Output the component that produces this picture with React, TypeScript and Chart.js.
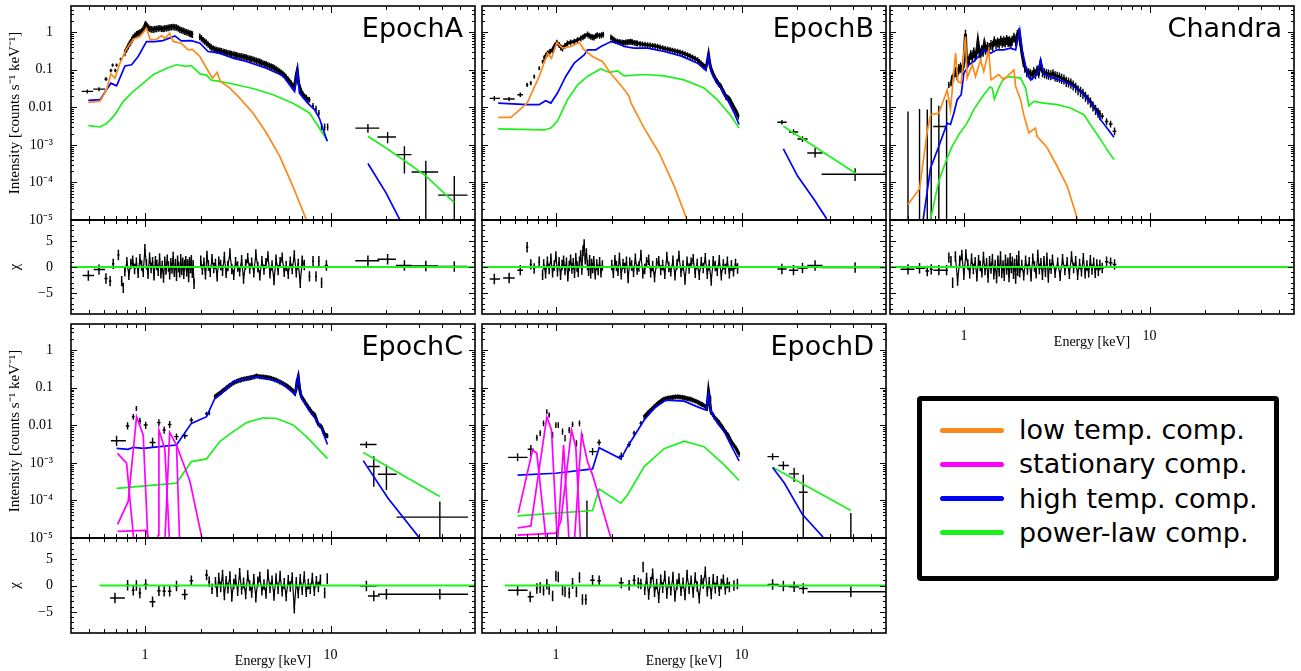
import React, { useEffect, useRef } from 'react';
import { Chart, registerables } from 'chart.js';

Chart.register(...registerables);

type Pair = [number, number];
type Cross = [number, number, number, number, number, number]; // E, Elo, Ehi, V, Vlo, Vhi
type ResCross = [number, number, number, number]; // E, Elo, Ehi, chi

// ---------------- axes ----------------
const X_RANGE: Pair = [0.4, 60];
const Y_RANGE: Pair = [1e-5, 5];
const R_RANGE: Pair = [-9, 9];
const X_MAJOR = [1, 10];
const X_MAJOR_LABELS = ['1', '10'];
const X_MINOR = [0.5, 0.6, 0.7, 0.8, 0.9, 2, 3, 4, 5, 6, 7, 8, 9, 20, 30, 40, 50];
const Y_MAJOR = [1e-5, 1e-4, 1e-3, 0.01, 0.1, 1];
const Y_MAJOR_LABELS = ['10⁻⁵', '10⁻⁴', '10⁻³', '0.01', '0.1', '1'];
const Y_MINOR = [
  2e-5, 3e-5, 4e-5, 5e-5, 6e-5, 7e-5, 8e-5, 9e-5,
  2e-4, 3e-4, 4e-4, 5e-4, 6e-4, 7e-4, 8e-4, 9e-4,
  0.002, 0.003, 0.004, 0.005, 0.006, 0.007, 0.008, 0.009,
  0.02, 0.03, 0.04, 0.05, 0.06, 0.07, 0.08, 0.09,
  0.2, 0.3, 0.4, 0.5, 0.6, 0.7, 0.8, 0.9,
  2, 3, 4,
];
const R_MAJOR = [-5, 0, 5];
const R_MAJOR_LABELS = ['−5', '0', '5'];
const R_MINOR = [-8, -7, -6, -4, -3, -2, -1, 1, 2, 3, 4, 6, 7, 8];

const COLORS = { low: '#fb8a1a', stat: '#ff00ff', high: '#0000ff', pl: '#1ef01e' };
const SERIF = "'Liberation Serif', 'Times New Roman', Times, serif";
const SANS = "'DejaVu Sans', Verdana, sans-serif";

// ================= EPOCH A =================
const aLow: Pair[] = [[0.496,0.0136],[0.573,0.0145],[0.622,0.0294],[0.656,0.078],[0.690,0.060],[0.734,0.150],[0.791,0.34],[0.866,0.65],[0.94,0.77],[1.02,1.28],[1.07,0.63],[1.155,0.65],[1.23,0.80],[1.29,0.69],[1.36,0.94],[1.42,0.57],[1.57,0.51],[1.71,0.34],[1.80,0.35],[1.98,0.226],[2.15,0.11],[2.31,0.060],[2.45,0.085],[2.55,0.049],[2.86,0.033],[3.18,0.0195],[3.82,0.0071],[4.51,0.0021],[5.32,5e-4],[6.27,7.9e-5],[7.4,1.04e-5],[7.6,7e-6]];
const aHigh: Pair[] = [[0.496,0.0153],[0.573,0.016],[0.656,0.044],[0.704,0.0376],[0.781,0.126],[0.848,0.136],[0.92,0.226],[1.02,0.565],[1.13,0.565],[1.25,0.60],[1.45,0.80],[1.57,0.59],[1.78,0.60],[1.98,0.51],[2.19,0.307],[2.38,0.29],[2.53,0.277],[2.98,0.204],[3.52,0.166],[4.51,0.11],[5.54,0.069],[6.40,0.0263],[6.63,0.10],[6.80,0.024],[7.54,0.013],[8.19,0.0087],[8.7,0.0052],[9.6,0.00125]];
const aHighHXD: Pair[] = [[15.9,3.2e-4],[19.9,5.3e-5],[23,1.3e-5],[25,6e-6]];
const aPL: Pair[] = [[0.496,0.00326],[0.573,0.003],[0.622,0.0037],[0.690,0.0064],[0.765,0.0144],[0.866,0.0266],[0.98,0.044],[1.108,0.074],[1.31,0.110],[1.48,0.136],[1.60,0.128],[1.64,0.124],[1.78,0.130],[1.98,0.078],[2.15,0.072],[2.28,0.053],[2.53,0.049],[2.98,0.0418],[3.82,0.0317],[4.90,0.0216],[6.27,0.0129],[7.7,0.0071],[9.6,0.00133]];
const aPLHXD: Pair[] = [[15.9,0.0017],[19.9,0.00083],[24.5,0.00041],[32.6,1.5e-4],[46.4,2.9e-5]];
const aSparse: Cross[] = [
  [0.49,0.457,0.527,0.0266,0.0235,0.030],[0.566,0.527,0.61,0.0306,0.027,0.0345],[0.617,0.605,0.630,0.0565,0.050,0.064],
  [0.656,0.645,0.668,0.096,0.086,0.107],[0.693,0.682,0.705,0.096,0.086,0.107],[0.67,0.66,0.68,0.133,0.12,0.147],
  [0.704,0.693,0.715,0.133,0.12,0.147],[0.74,0.73,0.75,0.192,0.175,0.21],
  [7.70,7.6,7.8,0.016,0.0135,0.019],[8.05,7.95,8.15,0.011,0.0092,0.013],[8.35,8.25,8.45,0.0091,0.0076,0.011],
  [8.65,8.55,8.75,0.0071,0.0059,0.0085],[8.95,8.85,9.05,0.003,0.0024,0.0037],[9.3,9.2,9.4,0.003,0.0024,0.0037],[9.65,9.55,9.75,0.003,0.0024,0.0037],
  [15.9,13.6,18.3,0.0028,0.0021,0.0036],[20.3,17.9,22.5,0.00163,0.0011,0.0022],[25.0,22.5,27.3,5.5e-4,1.74e-4,9.2e-4],
  [32.6,27.3,38,1.9e-4,1e-7,3.8e-4],[46.4,38,54.7,4.6e-5,1e-7,1.48e-4],
];
const aDense: Pair[] = [
  [0.781,0.288],[0.797,0.36],[0.814,0.434],[0.826,0.50],[0.838,0.543],[0.852,0.64],[0.866,0.737],[0.884,0.82],[0.902,0.903],[0.92,0.95],
  [0.94,1.0],[0.96,1.08],[0.98,1.2],[0.995,1.4],[1.008,1.66],[1.018,1.55],[1.029,1.47],[1.046,1.33],[1.064,1.25],[1.086,1.22],
  [1.109,1.2],[1.132,1.24],[1.155,1.25],[1.18,1.28],[1.204,1.3],[1.23,1.26],[1.255,1.25],[1.28,1.29],[1.308,1.3],[1.335,1.33],
  [1.363,1.36],[1.39,1.39],[1.42,1.41],[1.45,1.38],[1.48,1.36],[1.51,1.28],[1.542,1.2],[1.575,1.15],[1.607,1.11],[1.64,1.06],
  [1.675,1.02],[1.71,0.98],[1.746,0.94],[1.775,0.91],[1.803,0.885],
  [1.975,0.767],[2.017,0.70],[2.059,0.626],[2.10,0.58],[2.146,0.532],[2.19,0.48],[2.236,0.434],[2.28,0.40],[2.33,0.376],[2.38,0.355],
  [2.429,0.34],[2.48,0.333],[2.53,0.326],[2.58,0.315],[2.637,0.307],[2.69,0.297],[2.748,0.288],[2.80,0.282],[2.864,0.277],[2.92,0.268],
  [2.985,0.261],[3.05,0.255],[3.111,0.25],[3.17,0.242],[3.242,0.235],[3.31,0.23],[3.379,0.226],[3.45,0.221],[3.521,0.217],[3.59,0.208],
  [3.669,0.2],[3.74,0.196],[3.823,0.192],[3.90,0.184],[3.985,0.177],[4.07,0.171],[4.153,0.166],[4.24,0.158],[4.328,0.150],[4.42,0.145],
  [4.51,0.141],[4.60,0.134],[4.70,0.128],[4.80,0.123],[4.898,0.118],[5.0,0.111],[5.105,0.104],[5.21,0.097],[5.32,0.0903],[5.43,0.084],
  [5.54,0.0783],[5.66,0.071],[5.776,0.0638],[5.90,0.056],[6.02,0.049],[6.15,0.043],[6.274,0.0376],[6.405,0.0347],[6.539,0.0736],[6.62,0.096],
  [6.73,0.0443],[6.84,0.033],[6.957,0.0266],[7.10,0.022],[7.25,0.0196],[7.40,0.018],[7.55,0.016],
];
const aResSparse: ResCross[] = [
  [0.496,0.462,0.532,-1.65],[0.566,0.53,0.61,-0.5],[0.617,0.605,0.63,-2.2],[0.65,0.64,0.66,-2.7],[0.675,0.665,0.685,0.6],
  [0.72,0.71,0.73,2.3],[0.75,0.742,0.758,-2.7],[0.765,0.76,0.77,-4.0],
  [7.70,7.6,7.8,-1.8],[8.05,7.95,8.15,1.1],[8.35,8.25,8.45,-1.8],[8.65,8.55,8.75,1.1],[8.95,8.85,9.05,-3.0],[9.5,9.3,9.7,0.3],
  [15.9,13.6,18.3,1.2],[20.3,17.9,22.5,1.5],[25.0,22.5,27.3,0.3],[32.6,27.3,38,0.2],[46.4,38,54.7,0.1],
];
const aResDense: Pair[] = [
  [0.78,-0.8],[0.80,0.9],[0.82,-1.5],[0.84,0.6],[0.86,1.2],[0.88,-0.4],[0.90,0.8],[0.92,-1.1],[0.94,1.5],[0.96,0.3],
  [0.98,-0.9],[1.00,3.4],[1.02,0.5],[1.04,-1.3],[1.06,1.8],[1.08,-0.2],[1.10,0.9],[1.12,-1.6],[1.14,1.1],[1.16,0.4],
  [1.18,-0.7],[1.20,1.6],[1.22,-1.2],[1.24,0.2],[1.26,-2.0],[1.28,1.0],[1.30,-0.5],[1.32,1.4],[1.34,0.1],[1.36,-1.4],
  [1.38,0.7],[1.40,-0.3],[1.42,1.9],[1.44,-0.9],[1.46,0.6],[1.48,-1.7],[1.50,1.2],[1.52,0.0],[1.54,-1.0],[1.56,1.5],
  [1.58,-0.6],[1.60,0.8],[1.62,-1.3],[1.64,0.4],[1.66,1.1],[1.68,-0.8],[1.70,0.5],[1.72,-1.9],[1.74,0.9],[1.76,-0.2],
  [1.78,1.3],[1.80,-1.1],[1.82,0.3],[1.84,-3.2],
  [2.00,1.2],[2.04,-0.5],[2.08,0.8],[2.12,-1.4],[2.16,2.1],[2.20,0.3],[2.25,-0.9],[2.30,1.5],[2.35,-0.2],[2.40,0.6],
  [2.45,-1.8],[2.50,1.0],[2.56,0.4],[2.62,-0.7],[2.68,1.9],[2.74,-1.1],[2.80,0.2],[2.87,2.6],[2.94,-0.4],[3.01,-1.5],
  [3.08,0.9],[3.16,0.1],[3.24,-0.8],[3.32,1.3],[3.40,-2.2],[3.49,0.5],[3.58,1.7],[3.67,-0.3],[3.76,0.8],[3.86,-1.0],
  [3.96,2.4],[4.06,0.0],[4.16,-1.6],[4.27,1.1],[4.38,-0.5],[4.49,0.7],[4.60,2.0],[4.72,-1.2],[4.84,0.3],[4.96,-2.5],
  [5.09,1.4],[5.22,-0.6],[5.35,0.9],[5.49,1.8],[5.63,-0.9],[5.77,0.2],[5.92,-1.3],[6.07,1.0],[6.22,-0.4],[6.38,2.2],
  [6.54,-1.0],[6.70,0.6],[6.87,-3.0],[7.04,1.2],[7.22,0.4],
];
const aResZero: Pair[] = [[0.4,0],[60,0]];

// ================= EPOCH B =================
const bLow: Pair[] = [[0.489,0.0054],[0.573,0.0054],[0.70,0.013],[0.813,0.0665],[0.902,0.277],[0.947,0.204],[1.012,0.532],[1.086,0.376],[1.205,0.417],[1.336,0.532],[1.42,0.34],[1.575,0.226],[1.78,0.166],[1.98,0.078],[2.19,0.044],[2.38,0.0266],[2.48,0.0195],[2.54,0.013],[2.99,0.0028],[3.6,6.1e-4],[4.34,8e-5],[5.0,1.28e-5],[5.2,6.9e-6]];
const bHigh: Pair[] = [[0.489,0.013],[0.70,0.0118],[0.813,0.0118],[0.88,0.015],[0.94,0.013],[1.02,0.024],[1.13,0.0665],[1.255,0.15],[1.42,0.25],[1.48,0.34],[1.64,0.34],[1.75,0.417],[1.98,0.565],[2.15,0.51],[2.33,0.417],[2.64,0.376],[3.12,0.376],[3.83,0.307],[4.71,0.235],[5.8,0.15],[6.43,0.096],[6.64,0.25],[6.84,0.091],[7.28,0.049],[7.74,0.0326],[7.9,0.0266],[8.4,0.016],[9.13,0.0071],[9.7,0.0035]];
const bHighHXD: Pair[] = [[16.8,7.8e-4],[20,1.5e-4],[24.6,3.5e-5],[28.5,1.15e-5],[29.6,6.9e-6]];
const bPL: Pair[] = [[0.489,0.00266],[0.865,0.0025],[0.94,0.0028],[1.02,0.0043],[1.155,0.016],[1.31,0.04],[1.48,0.0665],[1.71,0.1],[1.75,0.106],[1.94,0.085],[2.15,0.094],[2.33,0.069],[2.99,0.075],[3.83,0.069],[4.9,0.054],[6.28,0.0326],[7.4,0.016],[8.8,0.0058],[9.7,0.0028]];
const bPLHXD: Pair[] = [[16.8,0.00313],[41.3,1.74e-4]];
const bSparse: Cross[] = [
  [0.466,0.44,0.50,0.0173,0.015,0.020],[0.56,0.52,0.60,0.0167,0.0145,0.019],[0.643,0.62,0.665,0.0217,0.019,0.025],
  [0.70,0.69,0.71,0.040,0.035,0.045],[0.733,0.722,0.744,0.0443,0.039,0.05],[0.764,0.754,0.774,0.066,0.058,0.075],
  [0.813,0.803,0.823,0.11,0.098,0.124],[0.848,0.838,0.858,0.166,0.148,0.186],
  [16.5,15.6,17.5,0.004,0.0035,0.0046],[19.05,18.0,20.2,0.0022,0.0019,0.0026],[21.3,20,22.7,0.00144,0.0012,0.0017],
  [24.9,22.6,27.3,6.1e-4,4.6e-4,8.3e-4],[40.9,27.0,61,1.66e-4,1.1e-4,2.4e-4],
];
const bDense: Pair[] = [
  [0.865,0.204],[0.883,0.24],[0.902,0.277],[0.93,0.31],[0.959,0.34],[0.985,0.44],[1.012,0.532],[1.042,0.461],[1.064,0.40],[1.086,0.376],
  [1.12,0.44],[1.155,0.51],[1.20,0.54],[1.255,0.565],[1.307,0.626],[1.363,0.693],[1.40,0.75],[1.432,0.80],[1.48,0.885],[1.51,0.82],
  [1.543,0.767],[1.575,0.75],[1.607,0.737],[1.64,0.80],[1.67,0.85],[1.72,0.82],[1.762,0.85],[1.80,0.88],
  [1.98,0.74],[2.02,0.68],[2.06,0.62],[2.10,0.59],[2.15,0.565],[2.20,0.55],[2.24,0.54],[2.29,0.535],[2.33,0.53],[2.38,0.54],
  [2.43,0.55],[2.48,0.56],[2.53,0.565],[2.58,0.55],[2.64,0.53],[2.70,0.52],[2.75,0.51],[2.84,0.495],[2.93,0.48],[3.02,0.47],
  [3.12,0.46],[3.22,0.45],[3.32,0.44],[3.42,0.43],[3.53,0.417],[3.64,0.40],[3.76,0.38],[3.88,0.365],[4.0,0.354],[4.12,0.342],
  [4.25,0.33],[4.38,0.318],[4.52,0.307],[4.66,0.293],[4.81,0.28],[4.96,0.265],[5.12,0.25],[5.28,0.232],[5.45,0.215],[5.62,0.2],
  [5.8,0.184],[5.92,0.165],[6.05,0.15],[6.18,0.135],[6.3,0.122],[6.42,0.115],[6.52,0.15],[6.64,0.25],[6.74,0.15],[6.84,0.11],
  [6.95,0.09],[7.05,0.075],[7.16,0.064],[7.28,0.054],[7.4,0.049],[7.5,0.044],[7.62,0.04],[7.74,0.036],[7.86,0.031],[7.98,0.027],
  [8.1,0.023],[8.23,0.0195],[8.34,0.0185],[8.45,0.018],[8.55,0.017],[8.65,0.016],[8.78,0.014],[8.9,0.012],[9.0,0.011],[9.13,0.0096],
  [9.27,0.0085],[9.4,0.0075],[9.5,0.0066],[9.6,0.0058],
];
const bResSparse: ResCross[] = [
  [0.466,0.44,0.50,-2.3],[0.56,0.52,0.60,-2.1],[0.643,0.62,0.665,-0.6],[0.70,0.69,0.71,3.8],[0.733,0.722,0.744,0.5],
  [0.764,0.754,0.774,-0.3],[0.813,0.803,0.823,1.0],[0.848,0.838,0.858,-1.5],
  [16.5,15.6,17.5,-0.4],[19.05,18.0,20.2,-0.6],[21.3,20,22.7,-0.2],[24.9,22.6,27.3,0.3],[40.9,27,61,-0.1],
];
const bResDense: Pair[] = [
  [0.86,0.5],[0.88,-1.2],[0.90,1.0],[0.92,-0.4],[0.94,1.6],[0.96,-1.0],[0.98,0.3],[1.00,2.0],[1.02,-0.8],[1.04,0.9],
  [1.06,-1.5],[1.08,0.4],[1.10,1.2],[1.12,-0.6],[1.14,0.8],[1.16,-1.8],[1.18,0.2],[1.20,1.4],[1.22,-0.3],[1.24,0.7],
  [1.26,-1.1],[1.28,1.7],[1.30,0.1],[1.32,-0.9],[1.34,1.0],[1.36,2.2],[1.38,-0.5],[1.40,3.1],[1.42,4.3],[1.44,1.5],
  [1.46,2.6],[1.48,0.4],[1.50,-0.7],[1.52,1.3],[1.54,-1.2],[1.56,0.6],[1.58,-0.2],[1.60,1.1],[1.63,-1.4],[1.66,0.5],
  [1.69,-0.6],[1.72,0.9],[1.75,-1.0],[1.78,0.3],
  [2.00,0.4],[2.04,-1.1],[2.08,1.3],[2.12,0.2],[2.16,-0.7],[2.20,1.8],[2.25,-1.4],[2.30,0.6],[2.35,-0.2],[2.40,1.0],
  [2.45,-2.1],[2.50,0.8],[2.56,0.3],[2.62,-0.9],[2.68,1.6],[2.74,-0.5],[2.80,0.1],[2.87,2.3],[2.94,-1.2],[3.01,-0.4],
  [3.08,0.9],[3.16,1.4],[3.24,-1.0],[3.32,0.2],[3.40,-1.9],[3.49,0.7],[3.58,1.1],[3.67,-0.6],[3.76,0.4],[3.86,-1.3],
  [3.96,1.9],[4.06,0.0],[4.16,-0.8],[4.27,1.2],[4.38,-1.6],[4.49,0.5],[4.60,2.1],[4.72,-0.9],[4.84,0.3],[4.96,-2.4],
  [5.09,1.0],[5.22,-0.3],[5.35,0.8],[5.49,1.5],[5.63,-1.1],[5.77,0.6],[5.92,-1.5],[6.07,0.9],[6.22,-0.2],[6.38,1.7],
  [6.54,-1.3],[6.70,0.4],[6.87,-2.6],[7.04,1.1],[7.22,0.2],[7.40,-0.7],[7.59,1.3],[7.78,-1.6],[7.98,0.5],[8.18,-0.4],
  [8.39,1.0],[8.60,-1.2],[8.82,0.3],[9.05,-0.8],[9.28,0.6],[9.52,-0.3],
];
const bResZero: Pair[] = [[0.4,0],[60,0]];

// ================= CHANDRA =================
const kLow: Pair[] = [[0.5,2.6e-5],[0.577,6.8e-5],[0.635,0.0023],[0.661,0.0064],[0.733,0.007],[0.813,0.029],[0.847,0.0087],[0.902,0.277],[0.928,0.049],[0.967,0.044],[1.02,0.77],[1.04,0.06],[1.11,0.136],[1.155,0.066],[1.23,0.184],[1.28,0.09],[1.36,0.34],[1.40,0.054],[1.54,0.074],[1.64,0.054],[1.86,0.1],[1.9,0.036],[2.02,0.016],[2.1,0.0064],[2.24,0.0021],[2.43,0.0028],[2.48,0.0017],[2.81,8.4e-4],[3.18,2.7e-4],[3.6,8e-5],[4.07,1.15e-5],[4.16,7e-6]];
const kHigh: Pair[] = [[0.595,7e-6],[0.604,1.04e-5],[0.661,2.4e-4],[0.733,9.2e-4],[0.813,0.0038],[0.847,0.0035],[0.883,0.007],[0.92,0.016],[0.967,0.0217],[1.0,0.081],[1.064,0.136],[1.13,0.166],[1.2,0.226],[1.28,0.34],[1.39,0.277],[1.51,0.34],[1.64,0.34],[1.78,0.376],[1.9,0.34],[2.0,1.15],[2.06,0.34],[2.19,0.081],[2.29,0.054],[2.48,0.074],[2.59,0.184],[2.7,0.074],[3.05,0.06],[3.46,0.049],[3.91,0.036],[4.43,0.0217],[5.0,0.0106],[5.45,0.0047],[5.9,0.0028],[6.43,0.0016]];
const kPL: Pair[] = [[0.655,7e-6],[0.661,1.04e-5],[0.733,1.1e-4],[0.813,4.5e-4],[0.865,9.2e-4],[0.94,0.0019],[1.04,0.0038],[1.13,0.0087],[1.28,0.0217],[1.38,0.0347],[1.42,0.0326],[1.46,0.0167],[1.54,0.0326],[1.64,0.06],[1.78,0.066],[2.02,0.06],[2.15,0.0326],[2.24,0.011],[2.38,0.0144],[2.7,0.013],[3.18,0.0118],[3.75,0.0096],[4.43,0.0064],[4.8,0.0035],[5.45,0.0014],[5.9,7.5e-4],[6.43,4.1e-4]];
const kSparse: Cross[] = [
  [0.5,0.5,0.5,5e-5,1e-7,0.0078],[0.577,0.577,0.577,5e-5,1e-7,0.009],[0.635,0.635,0.635,5e-5,1e-7,0.0087],
  [0.667,0.667,0.667,5e-5,1e-7,0.0177],[0.733,0.684,0.796,0.0031,1e-7,0.011],[0.807,0.807,0.807,1e-4,1e-7,0.016],
  [0.83,0.82,0.84,0.04,0.033,0.048],[0.852,0.843,0.861,0.044,0.036,0.053],
  [5.56,5.45,5.68,0.0058,0.0048,0.007],[5.87,5.75,6.0,0.0042,0.0034,0.0051],[6.17,6.03,6.32,0.0036,0.0029,0.0044],[6.48,6.33,6.63,0.0023,0.0018,0.0029],
];
const kDense: Pair[] = [
  [0.86,0.055],[0.88,0.07],[0.90,0.09],[0.92,0.075],[0.94,0.11],[0.96,0.12],[0.98,0.1],[1.0,0.16],[1.02,0.9],[1.03,0.22],
  [1.05,0.17],[1.07,0.2],[1.09,0.26],[1.11,0.22],[1.13,0.3],[1.15,0.24],[1.17,0.28],[1.19,0.55],[1.21,0.3],[1.23,0.26],
  [1.25,0.35],[1.27,0.32],[1.29,0.5],[1.31,0.36],[1.34,0.42],[1.37,0.4],[1.40,0.48],[1.43,0.45],[1.46,0.6],[1.49,0.5],
  [1.52,0.56],[1.55,0.52],[1.58,0.62],[1.61,0.55],[1.64,0.6],[1.67,0.56],[1.70,0.65],[1.73,0.58],[1.76,0.6],[1.79,0.55],
  [1.82,0.62],[1.86,0.75],[1.90,0.6],[1.94,0.9],[1.98,1.0],[2.01,0.6],[2.05,0.3],[2.09,0.17],[2.13,0.12],[2.18,0.09],
  [2.23,0.085],[2.28,0.08],[2.33,0.075],[2.38,0.09],[2.43,0.08],[2.48,0.1],[2.53,0.085],[2.59,0.15],[2.65,0.09],[2.72,0.085],
  [2.79,0.08],[2.86,0.078],[2.94,0.075],[3.02,0.08],[3.1,0.07],[3.18,0.068],[3.27,0.065],[3.36,0.06],[3.46,0.058],[3.56,0.05],
  [3.66,0.048],[3.77,0.045],[3.88,0.04],[4.0,0.035],[4.12,0.03],[4.25,0.027],[4.38,0.024],[4.52,0.02],[4.66,0.017],[4.81,0.014],
  [4.96,0.011],[5.12,0.009],[5.28,0.0075],[5.4,0.0065],
];
const kResSparse: ResCross[] = [
  [0.5,0.456,0.542,-0.45],[0.577,0.55,0.62,-0.25],[0.635,0.62,0.65,-0.75],[0.667,0.655,0.68,-0.45],[0.733,0.684,0.796,-0.6],
  [0.807,0.796,0.82,-0.6],[0.83,0.82,0.84,1.8],[0.852,0.843,0.861,1.1],[0.87,0.865,0.875,-3.0],
  [5.56,5.45,5.68,-0.2],[5.87,5.75,6.0,1.0],[6.17,6.03,6.32,0.8],[6.48,6.33,6.63,0.5],
];
const kResDense: Pair[] = [
  [0.90,2.0],[0.925,-2.6],[0.95,1.2],[0.975,2.3],[1.00,-1.5],[1.025,2.4],[1.05,0.5],[1.075,-1.2],[1.10,1.6],[1.125,-0.4],
  [1.15,0.9],[1.175,-1.8],[1.20,1.3],[1.225,0.2],[1.25,-1.0],[1.275,1.9],[1.30,-0.6],[1.325,0.7],[1.35,-2.0],[1.375,1.1],
  [1.40,-0.3],[1.425,1.5],[1.45,-1.4],[1.475,0.4],[1.50,-2.1],[1.525,1.2],[1.55,-0.8],[1.575,2.0],[1.60,-1.1],[1.625,0.3],
  [1.65,-1.7],[1.675,1.4],[1.70,-0.5],[1.725,0.8],[1.75,-1.9],[1.775,1.7],[1.80,-0.2],[1.825,1.0],[1.85,-1.3],[1.875,0.6],
  [1.90,-2.2],[1.925,1.3],[1.95,-0.7],[1.975,2.1],[2.00,-1.0],
  [2.05,0.4],[2.10,-1.6],[2.15,1.2],[2.20,-0.5],[2.25,0.9],[2.30,-1.8],[2.35,1.6],[2.40,0.1],[2.45,-1.2],[2.50,2.3],
  [2.55,-0.4],[2.60,0.7],[2.65,-1.5],[2.70,1.1],[2.75,-0.9],[2.80,1.8],[2.85,-2.0],[2.90,0.5],[2.95,-0.3],[3.00,1.4],
  [3.1,-1.1],[3.2,0.8],[3.3,-1.7],[3.4,1.5],[3.5,-0.6],[3.6,0.9],[3.7,-1.3],[3.8,2.0],[3.9,-0.2],[4.0,1.1],
  [4.1,-1.5],[4.2,0.6],[4.3,-0.8],[4.4,1.7],[4.5,-1.2],[4.6,0.3],[4.7,-1.0],[4.8,1.3],[4.9,-0.5],[5.0,0.8],
  [5.1,-1.1],[5.2,0.5],[5.3,-0.7],[5.4,0.4],
];
const kResZero: Pair[] = [[0.4,0],[60,0]];

// ================= EPOCH C =================
const cHigh: Pair[] = [[0.704,0.00245],[0.813,0.0023],[0.866,0.0026],[0.98,0.00245],[1.2,0.0027],[1.48,0.003],[1.78,0.0113],[2.15,0.017],[2.38,0.052],[2.64,0.078],[2.99,0.144],[3.53,0.177],[3.99,0.196],[4.52,0.177],[5.33,0.144],[6.04,0.087],[6.43,0.066],[6.7,0.217],[6.98,0.052],[7.74,0.0231],[8.4,0.0139],[8.94,0.0083],[9.63,0.0031]];
const cHighHXD: Pair[] = [[15,0.00115],[20.4,1.15e-4],[29.7,1.1e-5],[30.9,7e-6]];
const cPL: Pair[] = [[0.704,2.1e-4],[1.48,2.9e-4],[1.78,0.00108],[2.15,0.00128],[2.53,0.0037],[2.99,0.0068],[3.53,0.0118],[4.34,0.0159],[5.12,0.0152],[6.29,0.0103],[7.42,0.005],[9.63,0.0013]];
const cPLHXD: Pair[] = [[15,0.0019],[38.8,1.28e-4]];
const cStat1: Pair[] = [[0.712,0.0018],[0.797,9.8e-4],[0.866,1.2e-5],[0.875,7e-6]];
const cStat2: Pair[] = [[0.713,2.3e-5],[0.813,9.4e-5],[0.902,0.017],[0.98,0.0055],[1.04,7e-6]];
const cStat3: Pair[] = [[0.713,1.5e-5],[1.02,1.6e-5],[1.06,7e-6]];
const cStat4: Pair[] = [[1.16,7e-6],[1.18,1.2e-5],[1.19,0.0075],[1.28,0.0024],[1.36,7e-6]];
const cStat5: Pair[] = [[1.28,7e-6],[1.36,0.0065],[1.48,0.003],[1.54,7e-6]];
const cStat6: Pair[] = [[1.48,0.003],[1.75,3.2e-4],[2.06,7e-6]];
const cSparse: Cross[] = [
  [0.704,0.656,0.79,0.0039,0.0028,0.0053],[0.807,0.79,0.825,0.0096,0.0078,0.012],[0.866,0.85,0.88,0.0169,0.014,0.02],
  [0.90,0.89,0.91,0.0283,0.024,0.033],[0.94,0.925,0.955,0.013,0.0105,0.016],[1.01,0.985,1.035,0.0102,0.008,0.0125],
  [1.10,1.06,1.14,0.0035,0.0025,0.0047],[1.19,1.165,1.215,0.0118,0.0095,0.0145],[1.27,1.245,1.295,0.0075,0.006,0.0093],
  [1.36,1.33,1.39,0.0105,0.0085,0.013],[1.48,1.44,1.52,0.005,0.0041,0.0061],[1.64,1.58,1.70,0.0053,0.0044,0.0064],
  [1.78,1.74,1.82,0.0139,0.0118,0.0163],[2.15,2.11,2.19,0.0204,0.018,0.023],[2.22,2.19,2.25,0.021,0.0185,0.024],
  [15.6,14.4,17.7,0.0031,0.0025,0.0037],[17.1,15.9,18.4,8e-4,2.3e-4,1.5e-3],[20,18.0,22.7,5e-4,1.9e-4,8.9e-4],
  [38.8,22.7,55,3.6e-5,1e-7,9.4e-5],
];
const cDense: Pair[] = [
  [2.38,0.058],[2.42,0.061],[2.45,0.064],[2.49,0.068],[2.53,0.071],[2.57,0.076],[2.61,0.082],[2.65,0.087],[2.7,0.092],[2.74,0.098],
  [2.78,0.105],[2.83,0.111],[2.87,0.118],[2.93,0.126],[2.99,0.135],[3.05,0.142],[3.12,0.15],[3.18,0.155],[3.25,0.16],[3.31,0.165],
  [3.38,0.17],[3.45,0.174],[3.53,0.178],[3.6,0.181],[3.68,0.184],[3.75,0.19],[3.83,0.195],[3.91,0.2],[3.99,0.208],[4.07,0.204],
  [4.16,0.2],[4.25,0.198],[4.34,0.196],[4.43,0.193],[4.52,0.19],[4.61,0.187],[4.71,0.184],[4.81,0.178],[4.91,0.172],[5.01,0.166],
  [5.12,0.16],[5.22,0.152],[5.33,0.145],[5.44,0.138],[5.56,0.13],[5.68,0.122],[5.8,0.115],[5.92,0.107],[6.04,0.1],[6.15,0.092],
  [6.25,0.085],[6.34,0.078],[6.43,0.071],[6.52,0.09],[6.6,0.15],[6.7,0.196],[6.8,0.1],[6.89,0.07],[6.98,0.058],[7.13,0.05],
  [7.28,0.042],[7.43,0.036],[7.58,0.031],[7.74,0.027],[7.9,0.023],[8.06,0.021],[8.23,0.019],[8.4,0.014],[8.58,0.011],[8.76,0.01],
  [8.94,0.0092],[9.13,0.007],[9.32,0.0055],[9.5,0.0054],[9.63,0.0053],
];
const cResSparse: ResCross[] = [
  [0.69,0.65,0.78,-2.35],[0.807,0.79,0.825,0.05],[0.866,0.85,0.88,-0.9],[0.90,0.89,0.91,0.0],[0.94,0.925,0.955,-1.4],
  [1.01,0.985,1.035,0.2],[1.10,1.06,1.14,-3.1],[1.19,1.165,1.215,-1.0],[1.27,1.245,1.295,-1.1],[1.36,1.33,1.39,-1.1],
  [1.48,1.44,1.52,-0.1],[1.64,1.58,1.70,-1.7],[1.78,1.74,1.82,0.9],[2.15,2.11,2.19,2.0],[2.22,2.19,2.25,0.7],[2.3,2.27,2.33,-0.6],
  [9.3,9.2,9.4,-1.4],[9.6,9.5,9.7,1.3],
  [15.6,14.4,17.7,-0.1],[17.1,15.9,18.4,-2.0],[20,18.0,22.7,-1.65],[38.8,22.7,55,-1.65],
];
const cResDense: Pair[] = [
  [2.40,0.6],[2.45,-1.2],[2.50,1.4],[2.56,-0.3],[2.62,2.0],[2.68,-1.8],[2.74,0.8],[2.80,-0.5],[2.87,1.7],[2.94,-2.1],
  [3.01,0.3],[3.08,1.1],[3.16,-1.0],[3.24,2.3],[3.32,-0.7],[3.40,0.5],[3.49,-1.6],[3.58,1.9],[3.67,0.0],[3.76,-1.3],
  [3.86,1.2],[3.96,-2.2],[4.06,0.7],[4.16,1.6],[4.27,-0.9],[4.38,0.2],[4.49,-1.5],[4.60,2.1],[4.72,-0.4],[4.84,0.9],
  [4.96,-1.9],[5.09,1.3],[5.22,-0.6],[5.35,1.8],[5.49,-1.1],[5.63,0.4],[5.77,-2.0],[5.92,1.0],[6.07,-0.2],[6.22,1.5],
  [6.38,-4.3],[6.54,0.6],[6.70,-1.4],[6.87,1.2],[7.04,-0.8],[7.22,1.7],[7.40,-1.2],[7.59,0.3],[7.78,-0.6],[7.98,1.4],
  [8.18,-1.0],[8.39,0.8],[8.60,-0.3],[8.82,1.1],
];
const cResZero: Pair[] = [[0.57,0],[60,0]];

// ================= EPOCH D =================
const dHigh: Pair[] = [[0.622,4.7e-4],[1.0,5.3e-4],[1.576,6.9e-4],[1.71,0.00255],[2.24,0.00128],[2.43,0.0027],[2.99,0.0139],[3.38,0.0283],[3.91,0.047],[4.91,0.044],[5.8,0.031],[6.43,0.0255],[6.64,0.07],[6.84,0.023],[7.42,0.0113],[8.07,0.0068],[8.76,0.003],[9.7,0.00113]];
const dHighHXD: Pair[] = [[14.7,7.5e-4],[17,2.9e-4],[21.3,4.2e-5],[27.3,1.1e-5],[28.5,7e-6]];
const dPL: Pair[] = [[0.622,3.9e-5],[1.576,5.4e-5],[1.71,2.0e-4],[2.24,8.5e-5],[2.43,1.4e-4],[2.99,8e-4],[3.83,0.0024],[4.91,0.0038],[6.28,0.0027],[8.07,8.9e-4],[9.7,3.4e-4]];
const dPLHXD: Pair[] = [[14.7,7.7e-4],[38.8,5.4e-5]];
const dStat1: Pair[] = [[0.627,4.6e-5],[0.749,0.0022],[0.79,0.0018],[0.89,7e-6]];
const dStat2: Pair[] = [[0.622,1.85e-5],[0.733,2.1e-5],[0.894,0.017],[0.947,0.0075],[1.02,7e-6]];
const dStat3: Pair[] = [[0.622,1.2e-5],[1.0,1.35e-5],[1.064,2.8e-5],[1.214,0.0075],[1.28,0.0027],[1.36,7e-6]];
const dStat4: Pair[] = [[1.255,7e-6],[1.375,0.0058],[1.48,0.00108],[1.576,4.8e-4],[2.02,7e-6]];
const dStat5: Pair[] = [[1.02,7e-6],[1.1,0.003],[1.18,7e-6]];
const dSparse: Cross[] = [
  [0.622,0.553,0.704,0.0014,0.0011,0.0018],[0.733,0.705,0.76,0.0023,0.0015,0.003],[0.79,0.78,0.80,0.0047,0.0039,0.0056],
  [0.823,0.813,0.833,0.0062,0.0052,0.0074],[0.858,0.848,0.868,0.0113,0.0095,0.0134],[0.894,0.885,0.903,0.023,0.02,0.027],
  [0.92,0.91,0.93,0.0188,0.016,0.022],[0.96,0.95,0.97,0.0055,0.0045,0.0067],[1.0,0.99,1.01,0.0101,0.0085,0.012],
  [1.03,1.02,1.04,0.0101,0.0085,0.012],[1.086,1.075,1.097,0.0068,0.0056,0.0082],[1.12,1.11,1.13,0.0045,0.0037,0.0055],
  [1.18,1.165,1.195,0.0075,0.0062,0.009],[1.23,1.215,1.245,0.0106,0.009,0.0125],[1.29,1.275,1.305,0.0033,0.0027,0.004],
  [1.34,1.325,1.355,0.0113,0.0095,0.0134],[1.39,1.375,1.405,0.005,0.0042,0.006],[1.47,1.47,1.47,1e-6,1e-7,1e-4],
  [1.576,1.51,1.66,0.002,0.0016,0.0025],[1.71,1.67,1.75,0.0035,0.0029,0.0042],[2.25,2.18,2.32,0.0015,0.0012,0.0019],
  [2.48,2.42,2.54,0.0031,0.0026,0.0037],[2.64,2.59,2.69,0.0062,0.0053,0.0072],[2.87,2.82,2.92,0.0113,0.0098,0.013],
  [14.7,13.8,15.9,0.00147,0.0012,0.0018],[16.8,15.8,18.0,8.5e-4,6.5e-4,1.1e-3],[19.2,18.0,20.4,5.1e-4,3.1e-4,7.4e-4],
  [21.5,20.4,22.7,1.66e-4,1e-7,4.8e-4],[38.8,22.7,60,3e-6,1e-7,4.6e-5],
];
const dDense: Pair[] = [
  [2.99,0.0169],[3.04,0.0185],[3.08,0.02],[3.13,0.0215],[3.18,0.023],[3.23,0.025],[3.28,0.027],[3.33,0.029],[3.38,0.031],[3.44,0.0335],
  [3.49,0.036],[3.55,0.0385],[3.6,0.041],[3.66,0.0435],[3.71,0.046],[3.77,0.048],[3.83,0.05],[3.91,0.0515],[3.99,0.053],[4.07,0.054],
  [4.16,0.055],[4.25,0.056],[4.33,0.057],[4.42,0.0575],[4.52,0.058],[4.61,0.0575],[4.71,0.057],[4.81,0.056],[4.91,0.055],[5.01,0.0535],
  [5.12,0.052],[5.22,0.051],[5.33,0.05],[5.44,0.048],[5.56,0.046],[5.68,0.044],[5.8,0.042],[5.91,0.04],[6.02,0.038],[6.13,0.0365],
  [6.24,0.035],[6.37,0.032],[6.5,0.029],[6.57,0.045],[6.64,0.081],[6.7,0.06],[6.75,0.04],[6.84,0.023],[6.98,0.02],[7.12,0.0169],
  [7.23,0.0155],[7.35,0.014],[7.46,0.013],[7.58,0.012],[7.7,0.0107],[7.82,0.0095],[7.94,0.0085],[8.07,0.0075],[8.27,0.0064],[8.47,0.0055],
  [8.7,0.0042],[8.94,0.0033],[9.13,0.0029],[9.32,0.0025],[9.5,0.0021],[9.7,0.0017],
];
const dResSparse: ResCross[] = [
  [0.622,0.553,0.704,-0.9],[0.727,0.705,0.76,-2.15],[0.79,0.78,0.80,-0.55],[0.823,0.813,0.833,-0.4],[0.858,0.848,0.868,-0.9],
  [0.894,0.885,0.903,0.25],[0.92,0.91,0.93,-0.75],[0.96,0.95,0.97,-2.0],[1.0,0.99,1.01,1.8],[1.03,1.02,1.04,1.6],
  [1.086,1.075,1.097,-0.9],[1.12,1.11,1.13,-1.2],[1.18,1.165,1.195,-1.4],[1.23,1.215,1.245,0.4],[1.29,1.275,1.305,-1.2],
  [1.34,1.325,1.355,1.5],[1.39,1.375,1.405,-2.65],[1.45,1.43,1.47,-2.65],[1.576,1.53,1.62,1.0],[1.71,1.67,1.75,0.9],
  [2.25,2.18,2.32,0.5],[2.48,2.42,2.54,0.05],[2.64,2.59,2.69,1.0],[2.78,2.74,2.82,0.5],[2.87,2.82,2.92,0.3],[2.95,2.93,2.97,3.5],
  [9.1,9.0,9.2,0.0],[9.5,9.4,9.6,0.3],
  [14.7,13.8,15.9,0.2],[16.8,15.8,18.0,-0.1],[19.2,18.0,20.4,-0.25],[21.5,20.4,22.7,-0.55],[38.8,22.7,60,-1.2],
];
const dResDense: Pair[] = [
  [3.01,-0.8],[3.08,1.4],[3.16,-1.7],[3.24,0.6],[3.32,2.2],[3.40,-1.2],[3.49,0.3],[3.58,-2.3],[3.67,1.1],[3.76,-0.4],
  [3.86,1.8],[3.96,-1.5],[4.06,0.7],[4.16,-0.9],[4.27,1.6],[4.38,-2.1],[4.49,0.2],[4.60,1.3],[4.72,-1.0],[4.84,0.5],
  [4.96,-1.8],[5.09,2.0],[5.22,-0.6],[5.35,0.9],[5.49,-1.3],[5.63,1.5],[5.77,-0.2],[5.92,-2.4],[6.07,1.0],[6.22,0.4],
  [6.38,2.6],[6.54,-1.1],[6.70,0.6],[6.87,-1.6],[7.04,1.2],[7.22,-0.5],[7.40,0.8],[7.59,-1.0],[7.78,0.3],[7.98,1.1],
  [8.18,-0.7],[8.39,0.5],[8.60,-0.3],
];
const dResZero: Pair[] = [[0.53,0],[60,0]];

// ---------------- helpers ----------------
type P = { x: number; y: number | null };
const gapAt = (x: number): P => ({ x, y: null });

function curve(...segs: (Pair[] | undefined)[]): P[] {
  const out: P[] = [];
  segs.filter(Boolean).forEach((s, i) => {
    if (i > 0) out.push(gapAt(s![0][0]));
    s!.forEach(([x, y]) => out.push({ x, y }));
  });
  return out;
}
function crossPts(list: Cross[]): P[] {
  const out: P[] = [];
  for (const [e, lo, hi, v, vlo, vhi] of list) {
    out.push({ x: lo, y: v }, { x: hi, y: v }, gapAt(e), { x: e, y: vlo }, { x: e, y: vhi }, gapAt(e));
  }
  return out;
}
function densePts(list: Pair[], relErr: number, halfBin: number): P[] {
  const out: P[] = [];
  for (const [e, v] of list) {
    out.push({ x: e * (1 - halfBin), y: v }, { x: e * (1 + halfBin), y: v }, gapAt(e),
      { x: e, y: v * (1 - relErr) }, { x: e, y: v * (1 + relErr) }, gapAt(e));
  }
  return out;
}
// polyline through consecutive bins (broken where bins are not adjacent)
function trace(list: Pair[], maxRatio: number): P[] {
  const out: P[] = [];
  list.forEach(([e, v], i) => {
    if (i > 0 && e / list[i - 1][0] > maxRatio) out.push(gapAt(e));
    out.push({ x: e, y: v });
  });
  return out;
}
function resCrossPts(list: ResCross[]): P[] {
  const out: P[] = [];
  for (const [e, lo, hi, r] of list) {
    out.push({ x: lo, y: r }, { x: hi, y: r }, gapAt(e), { x: e, y: r - 1 }, { x: e, y: r + 1 }, gapAt(e));
  }
  return out;
}
function resDensePts(list: Pair[], halfBin: number): P[] {
  const out: P[] = [];
  for (const [e, r] of list) {
    out.push({ x: e * (1 - halfBin), y: r }, { x: e * (1 + halfBin), y: r }, gapAt(e),
      { x: e, y: r - 1 }, { x: e, y: r + 1 }, gapAt(e));
  }
  return out;
}
const modelDs = (data: P[], color: string, width = 1.7) => ({
  data, showLine: true, pointRadius: 0, pointHitRadius: 0, borderColor: color, backgroundColor: color,
  borderWidth: width, order: 1, clip: 0, spanGaps: false,
});
const dataDs = (data: P[], width = 1) => ({
  data, showLine: true, pointRadius: 0, pointHitRadius: 0, borderColor: '#000', backgroundColor: '#000',
  borderWidth: width, order: 2, clip: 0, spanGaps: false,
});

interface PanelData {
  key: string; title: string; left: number; right: number; mainTop: number; mainBottom: number; resBottom: number;
  yLabels: boolean; xLabels: boolean;
  low?: Pair[]; stat?: Pair[][]; high: Pair[]; highHXD?: Pair[]; pl: Pair[]; plHXD?: Pair[];
  sparse: Cross[]; dense: Pair[]; denseErr: number;
  resSparse: ResCross[]; resDense: Pair[]; resZero: Pair[];
}

const PANELS: PanelData[] = [
  { key: 'A', title: 'EpochA', left: 71, right: 475, mainTop: 6, mainBottom: 220, resBottom: 314, yLabels: true, xLabels: false,
    low: aLow, high: aHigh, highHXD: aHighHXD, pl: aPL, plHXD: aPLHXD, sparse: aSparse, dense: aDense, denseErr: 0.2,
    resSparse: aResSparse, resDense: aResDense, resZero: aResZero },
  { key: 'B', title: 'EpochB', left: 482, right: 886, mainTop: 6, mainBottom: 220, resBottom: 314, yLabels: false, xLabels: false,
    low: bLow, high: bHigh, highHXD: bHighHXD, pl: bPL, plHXD: bPLHXD, sparse: bSparse, dense: bDense, denseErr: 0.18,
    resSparse: bResSparse, resDense: bResDense, resZero: bResZero },
  { key: 'K', title: 'Chandra', left: 890, right: 1294, mainTop: 6, mainBottom: 220, resBottom: 314, yLabels: false, xLabels: true,
    low: kLow, high: kHigh, pl: kPL, sparse: kSparse, dense: kDense, denseErr: 0.3,
    resSparse: kResSparse, resDense: kResDense, resZero: kResZero },
  { key: 'C', title: 'EpochC', left: 71, right: 475, mainTop: 324, mainBottom: 538, resBottom: 633, yLabels: true, xLabels: true,
    stat: [cStat1, cStat2, cStat3, cStat4, cStat5, cStat6], high: cHigh, highHXD: cHighHXD, pl: cPL, plHXD: cPLHXD,
    sparse: cSparse, dense: cDense, denseErr: 0.15, resSparse: cResSparse, resDense: cResDense, resZero: cResZero },
  { key: 'D', title: 'EpochD', left: 482, right: 886, mainTop: 324, mainBottom: 538, resBottom: 633, yLabels: false, xLabels: true,
    stat: [dStat1, dStat2, dStat3, dStat4, dStat5], high: dHigh, highHXD: dHighHXD, pl: dPL, plHXD: dPLHXD,
    sparse: dSparse, dense: dDense, denseErr: 0.15, resSparse: dResSparse, resDense: dResDense, resZero: dResZero },
];

interface SubSpec {
  id: string; main: boolean; title?: string;
  left: number; right: number; top: number; bottom: number;
  yLabels: boolean; xLabels: boolean; datasets: any[];
}

function mainDatasets(p: PanelData) {
  const ds: any[] = [];
  if (p.low) ds.push(modelDs(curve(p.low), COLORS.low));
  if (p.stat) p.stat.forEach((s) => ds.push(modelDs(curve(s), COLORS.stat)));
  ds.push(modelDs(curve(p.high, p.highHXD), COLORS.high));
  ds.push(modelDs(curve(p.pl, p.plHXD), COLORS.pl));
  ds.push(dataDs([...crossPts(p.sparse), ...densePts(p.dense, p.denseErr, 0.012)], 1.4));
  ds.push(dataDs(trace(p.dense, 1.07), 3));
  return ds;
}
function resDatasets(p: PanelData) {
  return [
    modelDs(curve(p.resZero), COLORS.pl, 1.8),
    dataDs([...resCrossPts(p.resSparse), ...resDensePts(p.resDense, 0.011)], 1.5),
    dataDs(trace(p.resDense, 1.06), 1.2),
  ];
}

const SUBS: SubSpec[] = PANELS.flatMap((p) => [
  { id: p.key + 'm', main: true, title: p.title, left: p.left, right: p.right, top: p.mainTop, bottom: p.mainBottom,
    yLabels: p.yLabels, xLabels: false, datasets: mainDatasets(p) },
  { id: p.key + 'r', main: false, left: p.left, right: p.right, top: p.mainBottom, bottom: p.resBottom,
    yLabels: p.yLabels, xLabels: p.xLabels, datasets: resDatasets(p) },
]);

const PAD = 20;
const X_AXIS_H = 38;

function geometry(s: SubSpec) {
  const cx = s.yLabels ? 0 : s.left - PAD;
  const cy = s.top - PAD;
  const w = s.right + PAD - cx;
  const h = s.bottom + (s.xLabels ? X_AXIS_H : PAD) - cy;
  return { cx, cy, w, h };
}

const framePlugin = {
  id: 'frame',
  afterDatasetsDraw(chart: any, _args: any, opts: any) {
    const { ctx, chartArea: a, scales } = chart;
    const xs = scales.x;
    const ys = scales.y;
    ctx.save();
    ctx.strokeStyle = '#000';
    ctx.lineWidth = 1;
    ctx.beginPath();
    const vt = (v: number, len: number) => {
      const p = Math.round(xs.getPixelForValue(v)) + 0.5;
      ctx.moveTo(p, a.bottom); ctx.lineTo(p, a.bottom - len);
      ctx.moveTo(p, a.top); ctx.lineTo(p, a.top + len);
    };
    const ht = (v: number, len: number) => {
      const p = Math.round(ys.getPixelForValue(v)) + 0.5;
      ctx.moveTo(a.left, p); ctx.lineTo(a.left + len, p);
      ctx.moveTo(a.right, p); ctx.lineTo(a.right - len, p);
    };
    X_MAJOR.forEach((v) => vt(v, 7));
    X_MINOR.forEach((v) => vt(v, 4));
    (opts.main ? Y_MAJOR : R_MAJOR).forEach((v) => ht(v, 6));
    (opts.main ? Y_MINOR : R_MINOR).forEach((v) => ht(v, 3));
    ctx.stroke();
    ctx.lineWidth = 1.6;
    ctx.strokeRect(a.left, a.top, a.right - a.left, a.bottom - a.top);
    if (opts.title) {
      ctx.font = `27px ${SANS}`;
      ctx.fillStyle = '#000';
      ctx.textAlign = 'right';
      ctx.textBaseline = 'alphabetic';
      ctx.fillText(opts.title, a.right - 12, a.top + 30.5);
    }
    ctx.restore();
  },
};

function buildConfig(s: SubSpec): any {
  const g = geometry(s);
  const yCommon = {
    display: s.yLabels,
    grid: { display: false },
    border: { display: false },
    afterFit: (sc: any) => {
      sc.width = s.yLabels ? s.left - g.cx : 0;
      sc.paddingTop = 0; sc.paddingBottom = 0;
    },
    title: {
      display: true,
      text: s.main ? 'Intensity [counts s⁻¹ keV⁻¹]' : 'χ',
      color: '#000',
      font: { family: SERIF, size: 15 },
      padding: { top: 6, bottom: 0 },
    },
  };
  const y = s.main
    ? {
        ...yCommon, type: 'logarithmic', min: Y_RANGE[0], max: Y_RANGE[1],
        afterBuildTicks: (sc: any) => { sc.ticks = Y_MAJOR.map((v) => ({ value: v })); },
        ticks: { autoSkip: false, padding: 10, color: '#000', font: { family: SERIF, size: 14 },
          callback: (_v: any, i: number) => Y_MAJOR_LABELS[i] },
      }
    : {
        ...yCommon, type: 'linear', min: R_RANGE[0], max: R_RANGE[1],
        afterBuildTicks: (sc: any) => { sc.ticks = R_MAJOR.map((v) => ({ value: v })); },
        ticks: { autoSkip: false, padding: 10, color: '#000', font: { family: SERIF, size: 14 },
          callback: (_v: any, i: number) => R_MAJOR_LABELS[i] },
      };
  return {
    type: 'scatter',
    data: { datasets: s.datasets },
    options: {
      responsive: false,
      maintainAspectRatio: false,
      animation: false,
      devicePixelRatio: 1,
      events: [],
      layout: { padding: { left: s.yLabels ? 0 : PAD, right: PAD, top: PAD, bottom: s.xLabels ? 0 : PAD } },
      plugins: {
        legend: { display: false },
        tooltip: { enabled: false },
        frame: { main: s.main, title: s.title },
      },
      scales: {
        x: {
          type: 'logarithmic', min: X_RANGE[0], max: X_RANGE[1], display: s.xLabels,
          grid: { display: false },
          border: { display: false },
          afterBuildTicks: (sc: any) => { sc.ticks = X_MAJOR.map((v) => ({ value: v })); },
          afterFit: (sc: any) => {
            sc.height = s.xLabels ? X_AXIS_H : 0;
            sc.paddingLeft = 0; sc.paddingRight = 0;
          },
          ticks: { autoSkip: false, maxRotation: 0, minRotation: 0, padding: 6, color: '#000',
            font: { family: SERIF, size: 14 }, callback: (_v: any, i: number) => X_MAJOR_LABELS[i] },
          title: { display: true, text: 'Energy [keV]', color: '#000', font: { family: SERIF, size: 14 },
            padding: { top: 0, bottom: 1 } },
        },
        y,
      },
    },
    plugins: [framePlugin],
  };
}

function SubChart({ spec }: { spec: SubSpec }) {
  const ref = useRef<HTMLCanvasElement>(null);
  const g = geometry(spec);
  useEffect(() => {
    if (!ref.current) return;
    const chart = new Chart(ref.current, buildConfig(spec));
    return () => chart.destroy();
  }, [spec]);
  return (
    <canvas
      ref={ref}
      width={g.w}
      height={g.h}
      style={{ position: 'absolute', left: g.cx, top: g.cy, width: g.w, height: g.h }}
    />
  );
}

const LEGEND_ITEMS = [
  { label: 'low temp. comp.', color: COLORS.low },
  { label: 'stationary comp.', color: COLORS.stat },
  { label: 'high temp. comp.', color: COLORS.high },
  { label: 'power-law comp.', color: COLORS.pl },
];

function Legend() {
  return (
    <div
      style={{
        position: 'absolute', left: 917, top: 396, width: 362, height: 185, boxSizing: 'border-box',
        border: '5px solid #000', borderRadius: 4, background: '#fff',
      }}
    >
      {LEGEND_ITEMS.map((it, i) => {
        const textTop = 14.3 + i * 34.1;
        return (
          <React.Fragment key={it.label}>
            <div style={{ position: 'absolute', left: 18, top: textTop + 24.4 - 9.5 - 2.5, width: 64, height: 5,
              borderRadius: 2.5, background: it.color }} />
            <div style={{ position: 'absolute', left: 97, top: textTop, height: 30, lineHeight: '30px',
              fontFamily: SANS, fontSize: 27, color: '#000', whiteSpace: 'nowrap' }}>{it.label}</div>
          </React.Fragment>
        );
      })}
    </div>
  );
}

export default function App() {
  return (
    <div style={{ position: 'fixed', left: 0, top: 0, width: 1301, height: 671, background: '#fff', overflow: 'hidden' }}>
      {SUBS.map((s) => (
        <SubChart key={s.id} spec={s} />
      ))}
      <Legend />
    </div>
  );
}
